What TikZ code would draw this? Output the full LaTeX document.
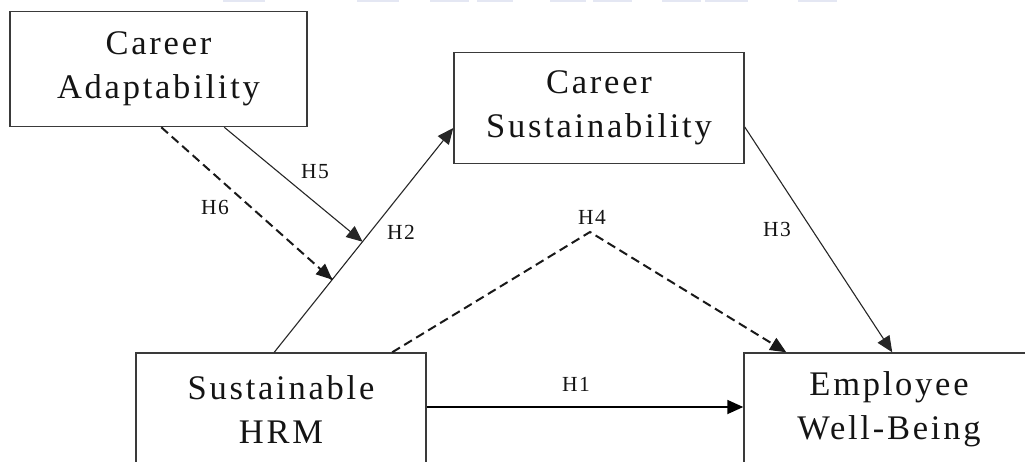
\documentclass[tikz,border=0pt]{standalone}
\usepackage{fontspec}
\setmainfont{Liberation Serif}
\newfontfamily\boxfont[LetterSpace=8]{Liberation Serif}
\newfontfamily\labfont[LetterSpace=6]{Liberation Serif}
\usetikzlibrary{arrows.meta,calc}
\definecolor{wm}{HTML}{E4E7F3}
\definecolor{bord}{HTML}{3A3A3A}
\tikzset{
  varbox/.style={draw=bord, line width=1.5pt, rectangle, align=center, inner sep=0pt,
    font=\boxfont\fontsize{34.5}{44}\selectfont, text=black!92},
  hlab/.style={font=\labfont\fontsize{21.5}{24}\selectfont, inner sep=0pt, text=black!92},
  tip/.style={-{Triangle[length=16pt,width=14pt]}},
  solidlink/.style={tip, line width=1.1pt, draw=black!85},
  dashlink/.style={line width=2pt, dash pattern=on 9pt off 5pt, draw=black!90},
}
\begin{document}
\begin{tikzpicture}[x=1pt,y=-1pt]
\useasboundingbox (0,0) rectangle (1025,461);
\clip (0,0) rectangle (1025,461);
% faint watermark strips at the top
\foreach \a/\b in {223/265,357/399,430/469,477/513,550/586,593/632,662/701,705/748,798/837}
  \fill[wm] (\a,0) rectangle (\b,2.2);
% boxes
\node[varbox, minimum width=297pt, minimum height=115pt] (ca) at (158.5,69) {Career\\Adaptability};
\node[varbox, minimum width=290pt, minimum height=111pt] (cs) at (599,108) {Career\\Sustainability};
\node[varbox, minimum width=290pt, minimum height=113pt] (shrm) at (281,409.5) {Sustainable\\HRM};
\node[varbox, minimum width=290pt, minimum height=113pt] (ewb) at (889,409.5) {Employee\\Well-Being};
% H2
\coordinate (h2s) at ([xshift=139pt]shrm.north west);
\coordinate (h2e) at ([yshift=-20pt]cs.west);
\draw[solidlink] (h2s) -- (h2e);
\coordinate (m5) at ($(h2s)!0.493!(h2e)$);
\coordinate (m6) at ($(h2s)!0.324!(h2e)$);
% H5
\draw[solidlink] ([xshift=215pt]ca.south west) -- (m5);
% H6
\draw[dashlink] ([xshift=152pt]ca.south west) -- (m6);
\draw[tip, line width=1.1pt, draw=black!90] ($(m6)!12pt!([xshift=152pt]ca.south west)$) -- (m6);
% H4
\coordinate (apex) at (590,232);
\draw[dashlink] ([xshift=257pt]shrm.north west) -- (apex) -- ($([xshift=43pt]ewb.north west)!12pt!(apex)$);
\draw[tip, line width=1.1pt, draw=black!90] ($([xshift=43pt]ewb.north west)!12pt!(apex)$) -- ([xshift=43pt]ewb.north west);
% H3
\draw[solidlink] ([yshift=-19pt]cs.east) -- ([xshift=149pt]ewb.north west);
% H1
\draw[tip, line width=1.8pt, draw=black] ([yshift=2.5pt]shrm.east) -- ([yshift=2.5pt]ewb.west);
% labels
\node[hlab] (l5) at (315,172) {H5};
\node[hlab] (l6) at (215,207) {H6};
\node[hlab] (l2) at (401,232) {H2};
\node[hlab] (l4) at (592,217) {H4};
\node[hlab] (l3) at (777,229) {H3};
\node[hlab] (l1) at (576,384) {H1};
\end{tikzpicture}
\end{document}
